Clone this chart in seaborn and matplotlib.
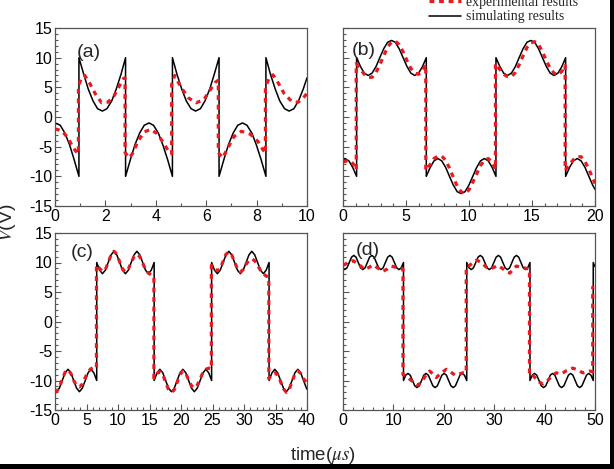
import matplotlib
matplotlib.use("Agg")
import matplotlib.pyplot as plt
import seaborn as sns
from matplotlib.ticker import MultipleLocator
from matplotlib.lines import Line2D
from matplotlib.patches import Rectangle

# ---- panel (a): 0-10 us ----
a_x_sim = [0.00, 0.21, 0.39, 0.58, 0.76, 0.95,
           0.95, 1.14, 1.32, 1.51, 1.69, 1.88, 2.06, 2.25, 2.43, 2.62, 2.80,
           2.80, 2.99, 3.17, 3.36, 3.54, 3.73, 3.91, 4.10, 4.28, 4.47, 4.66,
           4.66, 4.84, 5.03, 5.21, 5.40, 5.58, 5.77, 5.95, 6.14, 6.32, 6.51,
           6.51, 6.70, 6.88, 7.07, 7.25, 7.44, 7.62, 7.81, 7.99, 8.18, 8.37,
           8.37, 8.55, 8.74, 8.92, 9.11, 9.29, 9.48, 9.66, 9.85, 10.00]
a_sim = [-1.0, -1.4, -2.7, -4.7, -7.2, -10.0,
         10.0, 7.2, 4.7, 2.7, 1.4, 1.0, 1.4, 2.7, 4.7, 7.2, 10.0,
         -10.0, -7.2, -4.7, -2.7, -1.4, -1.0, -1.4, -2.7, -4.7, -7.2, -10.0,
         10.0, 7.2, 4.7, 2.7, 1.4, 1.0, 1.4, 2.7, 4.7, 7.2, 10.0,
         -10.0, -7.2, -4.7, -2.7, -1.4, -1.0, -1.4, -2.7, -4.7, -7.2, -10.0,
         10.0, 7.2, 4.7, 2.7, 1.4, 1.0, 1.4, 2.7, 4.7, 6.6]
a_x_exp = [0.00, 0.25, 0.50, 0.70, 0.88, 0.93,
           0.93, 1.05, 1.18, 1.35, 1.60, 1.85, 2.10, 2.35, 2.55, 2.72, 2.78,
           2.78, 2.95, 3.10, 3.30, 3.55, 3.80, 4.05, 4.30, 4.52, 4.63,
           4.63, 4.75, 5.00, 5.30, 5.60, 5.90, 6.15, 6.35, 6.48,
           6.48, 6.65, 6.85, 7.10, 7.40, 7.75, 8.05, 8.25, 8.35,
           8.35, 8.50, 8.65, 8.85, 9.10, 9.40, 9.65, 9.85, 10.00]
a_exp = [-2.0, -2.3, -3.4, -5.0, -6.1, -6.2,
         5.2, 6.6, 7.0, 5.9, 3.9, 2.4, 2.5, 3.6, 5.2, 6.5, 6.6,
         -6.0, -6.9, -6.0, -4.0, -2.5, -2.1, -2.8, -4.3, -5.9, -6.2,
         5.5, 7.0, 5.0, 3.2, 2.4, 2.9, 4.5, 5.8, 6.2,
         -6.0, -6.9, -5.3, -3.3, -2.4, -2.9, -4.1, -5.5, -6.1,
         5.0, 6.6, 7.1, 5.8, 3.9, 2.6, 2.5, 3.2, 4.0]

# ---- panel (b): 0-20 us ----
b_x_sim = [0.00, 0.16, 0.47, 0.77, 1.08,
           1.08, 1.39, 1.69, 2.00, 2.31, 2.62, 2.92, 3.23, 3.54, 3.85, 4.15, 4.46, 4.77, 5.08, 5.38, 5.69, 6.00, 6.31, 6.61,
           6.61, 6.92, 7.22, 7.53, 7.84, 8.15, 8.45, 8.76, 9.07, 9.38, 9.68, 9.99, 10.30, 10.61, 10.91, 11.22, 11.53, 11.84, 12.14,
           12.14, 12.45, 12.75, 13.06, 13.37, 13.68, 13.98, 14.29, 14.60, 14.91, 15.21, 15.52, 15.83, 16.14, 16.44, 16.75, 17.06, 17.37, 17.67,
           17.67, 17.98, 18.28, 18.59, 18.90, 19.21, 19.51, 19.82, 20.00]
b_sim = [-7.1, -7.0, -7.4, -8.5, -10.0,
         10.0, 8.5, 7.4, 7.0, 7.4, 8.5, 10.0, 11.5, 12.6, 12.9, 12.6, 11.5, 10.0, 8.5, 7.4, 7.0, 7.4, 8.5, 10.0,
         -10.0, -8.5, -7.4, -7.0, -7.4, -8.5, -10.0, -11.5, -12.6, -12.9, -12.6, -11.5, -10.0, -8.5, -7.4, -7.0, -7.4, -8.5, -10.0,
         10.0, 8.5, 7.4, 7.0, 7.4, 8.5, 10.0, 11.5, 12.6, 12.9, 12.6, 11.5, 10.0, 8.5, 7.4, 7.0, 7.4, 8.5, 10.0,
         -10.0, -8.5, -7.4, -7.0, -7.4, -8.5, -10.0, -11.5, -12.2]
b_x_exp = [0.00, 0.30, 0.60, 0.85, 1.05,
           1.05, 1.39, 1.69, 2.00, 2.31, 2.62, 2.92, 3.23, 3.54, 3.85, 4.15, 4.46, 4.77, 5.08, 5.38, 5.69, 6.00, 6.31, 6.57,
           6.57, 6.92, 7.22, 7.53, 7.84, 8.15, 8.45, 8.76, 9.07, 9.38, 9.68, 9.99, 10.30, 10.61, 10.91, 11.22, 11.53, 11.84, 12.10,
           12.10, 12.45, 12.75, 13.06, 13.37, 13.68, 13.98, 14.29, 14.60, 14.91, 15.21, 15.52, 15.83, 16.14, 16.44, 16.75, 17.06, 17.37, 17.63,
           17.63, 17.98, 18.28, 18.59, 18.90, 19.21, 19.51, 19.82, 20.00]
b_exp = [-7.6, -7.4, -7.4, -8.0, -8.9,
         9.0, 8.0, 7.2, 6.7, 6.7, 7.5, 8.8, 10.3, 11.8, 12.6, 12.8, 12.2, 11.0, 9.5, 8.2, 7.4, 7.2, 7.8, 8.8,
         -9.0, -8.0, -7.0, -6.6, -6.6, -7.3, -8.6, -10.2, -11.7, -12.6, -12.9, -12.3, -11.0, -9.6, -8.2, -7.3, -7.0, -7.6, -8.8,
         9.0, 8.0, 7.2, 6.8, 6.8, 7.5, 8.8, 10.3, 11.7, 12.5, 12.7, 12.2, 11.0, 9.5, 8.2, 7.4, 7.1, 7.7, 8.7,
         -9.0, -8.0, -7.2, -6.7, -6.7, -7.5, -8.8, -10.3, -11.2]

# ---- panel (c): 0-40 us ----
c_x_sim = [0.00, 0.24, 0.69, 1.15, 1.60, 2.06, 2.52, 2.97, 3.43, 3.88, 4.34, 4.80, 5.25, 5.71, 6.17, 6.62,
           6.62, 7.08, 7.53, 7.99, 8.44, 8.90, 9.36, 9.81, 10.27, 10.72, 11.18, 11.64, 12.09, 12.55, 13.00, 13.46, 13.92, 14.37, 14.83, 15.28, 15.74,
           15.74, 16.20, 16.65, 17.11, 17.56, 18.02, 18.48, 18.93, 19.39, 19.84, 20.30, 20.76, 21.21, 21.67, 22.12, 22.58, 23.04, 23.49, 23.95, 24.40, 24.86,
           24.86, 25.32, 25.77, 26.23, 26.68, 27.14, 27.60, 28.05, 28.51, 28.96, 29.42, 29.88, 30.33, 30.79, 31.24, 31.70, 32.16, 32.61, 33.07, 33.52, 33.98,
           33.98, 34.44, 34.89, 35.35, 35.80, 36.26, 36.72, 37.17, 37.63, 38.08, 38.54, 39.00, 39.45, 39.91, 40.00]
c_sim = [-11.7, -11.9, -11.3, -10.0, -8.7, -8.1, -8.7, -10.0, -11.3, -11.9, -11.3, -10.0, -8.7, -8.1, -8.7, -10.0,
         10.0, 8.7, 8.1, 8.7, 10.0, 11.3, 11.9, 11.3, 10.0, 8.7, 8.1, 8.7, 10.0, 11.3, 11.9, 11.3, 10.0, 8.7, 8.1, 8.7, 10.0,
         -10.0, -8.7, -8.1, -8.7, -10.0, -11.3, -11.9, -11.3, -10.0, -8.7, -8.1, -8.7, -10.0, -11.3, -11.9, -11.3, -10.0, -8.7, -8.1, -8.7, -10.0,
         10.0, 8.7, 8.1, 8.7, 10.0, 11.3, 11.9, 11.3, 10.0, 8.7, 8.1, 8.7, 10.0, 11.3, 11.9, 11.3, 10.0, 8.7, 8.1, 8.7, 10.0,
         -10.0, -8.7, -8.1, -8.7, -10.0, -11.3, -11.9, -11.3, -10.0, -8.7, -8.1, -8.7, -10.0, -11.3, -11.5]
c_x_exp = [0.00, 0.24, 0.69, 1.15, 1.60, 2.06, 2.52, 2.97, 3.43, 3.88, 4.34, 4.80, 5.25, 5.71, 6.17, 6.58,
           6.58, 7.08, 7.53, 7.99, 8.44, 8.90, 9.36, 9.81, 10.27, 10.72, 11.18, 11.64, 12.09, 12.55, 13.00, 13.46, 13.92, 14.37, 14.83, 15.28, 15.70,
           15.70, 16.20, 16.65, 17.11, 17.56, 18.02, 18.48, 18.93, 19.39, 19.84, 20.30, 20.76, 21.21, 21.67, 22.12, 22.58, 23.04, 23.49, 23.95, 24.40, 24.82,
           24.82, 25.32, 25.77, 26.23, 26.68, 27.14, 27.60, 28.05, 28.51, 28.96, 29.42, 29.88, 30.33, 30.79, 31.24, 31.70, 32.16, 32.61, 33.07, 33.52, 33.94,
           33.94, 34.44, 34.89, 35.35, 35.80, 36.26, 36.72, 37.17, 37.63, 38.08, 38.54, 39.00, 39.45, 39.91, 40.00]
c_exp = [-12.0, -11.9, -11.2, -9.8, -8.6, -8.2, -8.8, -10.0, -10.9, -11.1, -10.6, -9.5, -8.5, -8.0, -7.8, -7.9,
         9.6, 9.0, 8.5, 8.8, 10.0, 11.3, 11.9, 11.4, 10.1, 8.9, 8.4, 8.9, 10.0, 11.0, 11.4, 11.0, 9.9, 8.8, 8.2, 7.9, 7.6,
         -9.6, -8.8, -8.5, -9.0, -10.3, -11.5, -12.0, -11.6, -10.3, -9.0, -8.4, -8.8, -9.9, -10.9, -11.3, -10.8, -9.7, -8.6, -8.1, -7.9, -8.0,
         9.5, 9.0, 8.6, 9.0, 10.2, 11.4, 11.8, 11.3, 10.1, 8.9, 8.4, 8.8, 9.7, 10.4, 10.6, 10.3, 9.5, 8.7, 8.1, 7.7, 7.5,
         -9.7, -9.0, -8.7, -9.1, -10.2, -11.4, -12.0, -11.5, -10.2, -8.9, -8.4, -8.8, -9.7, -10.3, -10.4]

# ---- panel (d): 0-50 us ----
d_x_sim = [0.00, 0.35, 0.79, 1.24, 1.69, 2.14, 2.59, 3.03, 3.48, 3.93, 4.38, 4.83, 5.27, 5.72, 6.17, 6.62, 7.07, 7.51, 7.96, 8.41, 8.86, 9.31, 9.75, 10.20, 10.65, 11.10, 11.55, 12.00,
           12.00, 12.45, 12.90, 13.34, 13.79, 14.24, 14.69, 15.14, 15.59, 16.03, 16.48, 16.93, 17.38, 17.83, 18.28, 18.72, 19.17, 19.62, 20.07, 20.52, 20.96, 21.41, 21.86, 22.31, 22.76, 23.21, 23.65, 24.10, 24.55,
           24.55, 25.00, 25.45, 25.89, 26.34, 26.79, 27.24, 27.69, 28.14, 28.58, 29.03, 29.48, 29.93, 30.38, 30.83, 31.27, 31.72, 32.17, 32.62, 33.07, 33.51, 33.96, 34.41, 34.86, 35.31, 35.76, 36.20, 36.65, 37.10,
           37.10, 37.55, 38.00, 38.44, 38.89, 39.34, 39.79, 40.24, 40.69, 41.13, 41.58, 42.03, 42.48, 42.93, 43.38, 43.82, 44.27, 44.72, 45.17, 45.62, 46.06, 46.51, 46.96, 47.41, 47.86, 48.31, 48.75, 49.20, 49.65,
           49.65, 50.00]
d_sim = [9.0, 8.8, 9.1, 10.0, 10.9, 11.2, 10.9, 10.0, 9.1, 8.8, 9.1, 10.0, 10.9, 11.2, 10.9, 10.0, 9.1, 8.8, 9.1, 10.0, 10.9, 11.2, 10.9, 10.0, 9.1, 8.8, 9.1, 10.0,
         -10.0, -9.1, -8.8, -9.1, -10.0, -10.9, -11.2, -10.9, -10.0, -9.1, -8.8, -9.1, -10.0, -10.9, -11.2, -10.9, -10.0, -9.1, -8.8, -9.1, -10.0, -10.9, -11.2, -10.9, -10.0, -9.1, -8.8, -9.1, -10.0,
         10.0, 9.1, 8.8, 9.1, 10.0, 10.9, 11.2, 10.9, 10.0, 9.1, 8.8, 9.1, 10.0, 10.9, 11.2, 10.9, 10.0, 9.1, 8.8, 9.1, 10.0, 10.9, 11.2, 10.9, 10.0, 9.1, 8.8, 9.1, 10.0,
         -10.0, -9.1, -8.8, -9.1, -10.0, -10.9, -11.2, -10.9, -10.0, -9.1, -8.8, -9.1, -10.0, -10.9, -11.2, -10.9, -10.0, -9.1, -8.8, -9.1, -10.0, -10.9, -11.2, -10.9, -10.0, -9.1, -8.8, -9.1, -10.0,
         10.0, 9.3]
d_x_exp = [0.0, 1.0, 2.0, 3.0, 4.3, 5.0, 6.0, 7.0, 7.9, 8.8, 9.6, 10.4, 11.0, 11.9,
           11.9, 12.6, 13.4, 14.2, 14.9, 15.8, 16.5, 17.2, 18.0, 18.5, 19.4, 20.5, 21.3, 22.2, 23.0, 23.8, 24.45,
           24.45, 25.1, 25.8, 26.5, 27.5, 28.3, 29.1, 30.0, 30.75, 31.6, 32.4, 33.1, 33.8, 34.4, 35.3, 36.4, 37.0,
           37.0, 37.4, 38.2, 39.0, 39.7, 40.6, 41.5, 42.3, 43.3, 44.4, 45.6, 46.5, 47.6, 48.9, 49.55,
           49.55]
d_exp = [9.5, 10.0, 10.3, 9.8, 8.8, 9.1, 9.6, 9.0, 8.5, 8.9, 9.4, 9.2, 9.0, 8.9,
         -9.0, -9.3, -9.9, -10.4, -10.8, -10.0, -9.0, -8.4, -9.0, -9.5, -8.8, -8.1, -8.5, -9.1, -8.9, -8.7, -8.7,
         9.3, 9.5, 10.0, 10.4, 10.0, 9.3, 8.9, 9.2, 9.5, 9.0, 8.5, 8.2, 8.9, 9.4, 9.2, 9.0, 8.9,
         -9.0, -8.9, -9.6, -10.3, -10.6, -10.0, -9.2, -8.7, -8.9, -8.3, -7.9, -8.2, -8.7, -8.4, -8.5,
         6.0]

panel_tags = ["(a)", "(b)", "(c)", "(d)"]
legend_labels = ["experimental results", "simulating results"]

RED = "#e8191f"
FRAME = "#555555"
RED_DASH = (0, (1.5, 1.5))

sns.set_style("ticks")
plt.rcParams["font.family"] = ["Liberation Sans", "DejaVu Sans"]
plt.rcParams["mathtext.fontset"] = "stix"
plt.rcParams["axes.unicode_minus"] = False


def draw_panel(ax, xs, ys, xe, ye, xmax, major, minor, tag, tag_pos, ylabels):
    sns.lineplot(x=xs, y=ys, ax=ax, sort=False, estimator=None,
                 color="black", lw=1.1)
    sns.lineplot(x=xe, y=ye, ax=ax, sort=False, estimator=None,
                 color=RED, lw=2.3, linestyle=RED_DASH)
    ax.set_xlim(0, xmax)
    ax.set_ylim(-15, 15)
    ax.xaxis.set_major_locator(MultipleLocator(major))
    ax.xaxis.set_minor_locator(MultipleLocator(minor))
    ax.yaxis.set_major_locator(MultipleLocator(5))
    ax.yaxis.set_minor_locator(MultipleLocator(1))
    ax.tick_params(which="both", direction="in", colors=FRAME,
                   labelcolor="black", labelsize=11.5, width=0.8)
    ax.tick_params(which="major", length=4, pad=2)
    ax.tick_params(which="minor", length=2)
    if not ylabels:
        ax.tick_params(axis="y", labelleft=False)
    for sp in ax.spines.values():
        sp.set_color(FRAME)
        sp.set_linewidth(0.9)
    ax.set_xlabel("")
    ax.set_ylabel("")
    ax.text(tag_pos[0], tag_pos[1], tag, transform=ax.transAxes,
            fontsize=14, ha="left", va="center")


fig = plt.figure(figsize=(6.14, 4.69), dpi=100)
W, H = 614, 469


def rect(l, r, t, b):
    return [l / W, 1 - b / H, (r - l) / W, (b - t) / H]


ax_a = fig.add_axes(rect(55, 307, 28, 206))
ax_b = fig.add_axes(rect(343, 595, 28, 206))
ax_c = fig.add_axes(rect(55, 307, 233, 410))
ax_d = fig.add_axes(rect(343, 595, 233, 410))

draw_panel(ax_a, a_x_sim, a_sim, a_x_exp, a_exp, 10, 2, 1, panel_tags[0], (0.085, 0.86), True)
draw_panel(ax_b, b_x_sim, b_sim, b_x_exp, b_exp, 20, 5, 1, panel_tags[1], (0.035, 0.875), False)
draw_panel(ax_c, c_x_sim, c_sim, c_x_exp, c_exp, 40, 5, 1, panel_tags[2], (0.063, 0.89), True)
draw_panel(ax_d, d_x_sim, d_sim, d_x_exp, d_exp, 50, 10, 2, panel_tags[3], (0.052, 0.90), False)

handles = [Line2D([], [], color=RED, lw=2.3, linestyle=RED_DASH),
           Line2D([], [], color="black", lw=1.1)]
fig.legend(handles, legend_labels, loc="upper left",
           bbox_to_anchor=(429 / W, 1 + 4 / H), frameon=False,
           prop={"family": "Liberation Serif", "size": 10},
           handlelength=2.3, handletextpad=0.4, labelspacing=0.1,
           borderpad=0, borderaxespad=0)

fig.text(7 / W, 1 - 223 / H, r"$V$(V)", rotation=90, fontsize=14,
         ha="center", va="center")
fig.text(323 / W, 1 - 455 / H, r"time($\mu s$)", fontsize=13.5,
         ha="center", va="center")

# black scan borders on right and bottom edge
fig.patches.append(Rectangle((610 / W, 0), 4 / W, 1, transform=fig.transFigure,
                             facecolor="black", edgecolor="none", zorder=10))
fig.patches.append(Rectangle((0, 0), 1, 5 / H, transform=fig.transFigure,
                             facecolor="black", edgecolor="none", zorder=10))

fig.savefig("out.png", dpi=100)
